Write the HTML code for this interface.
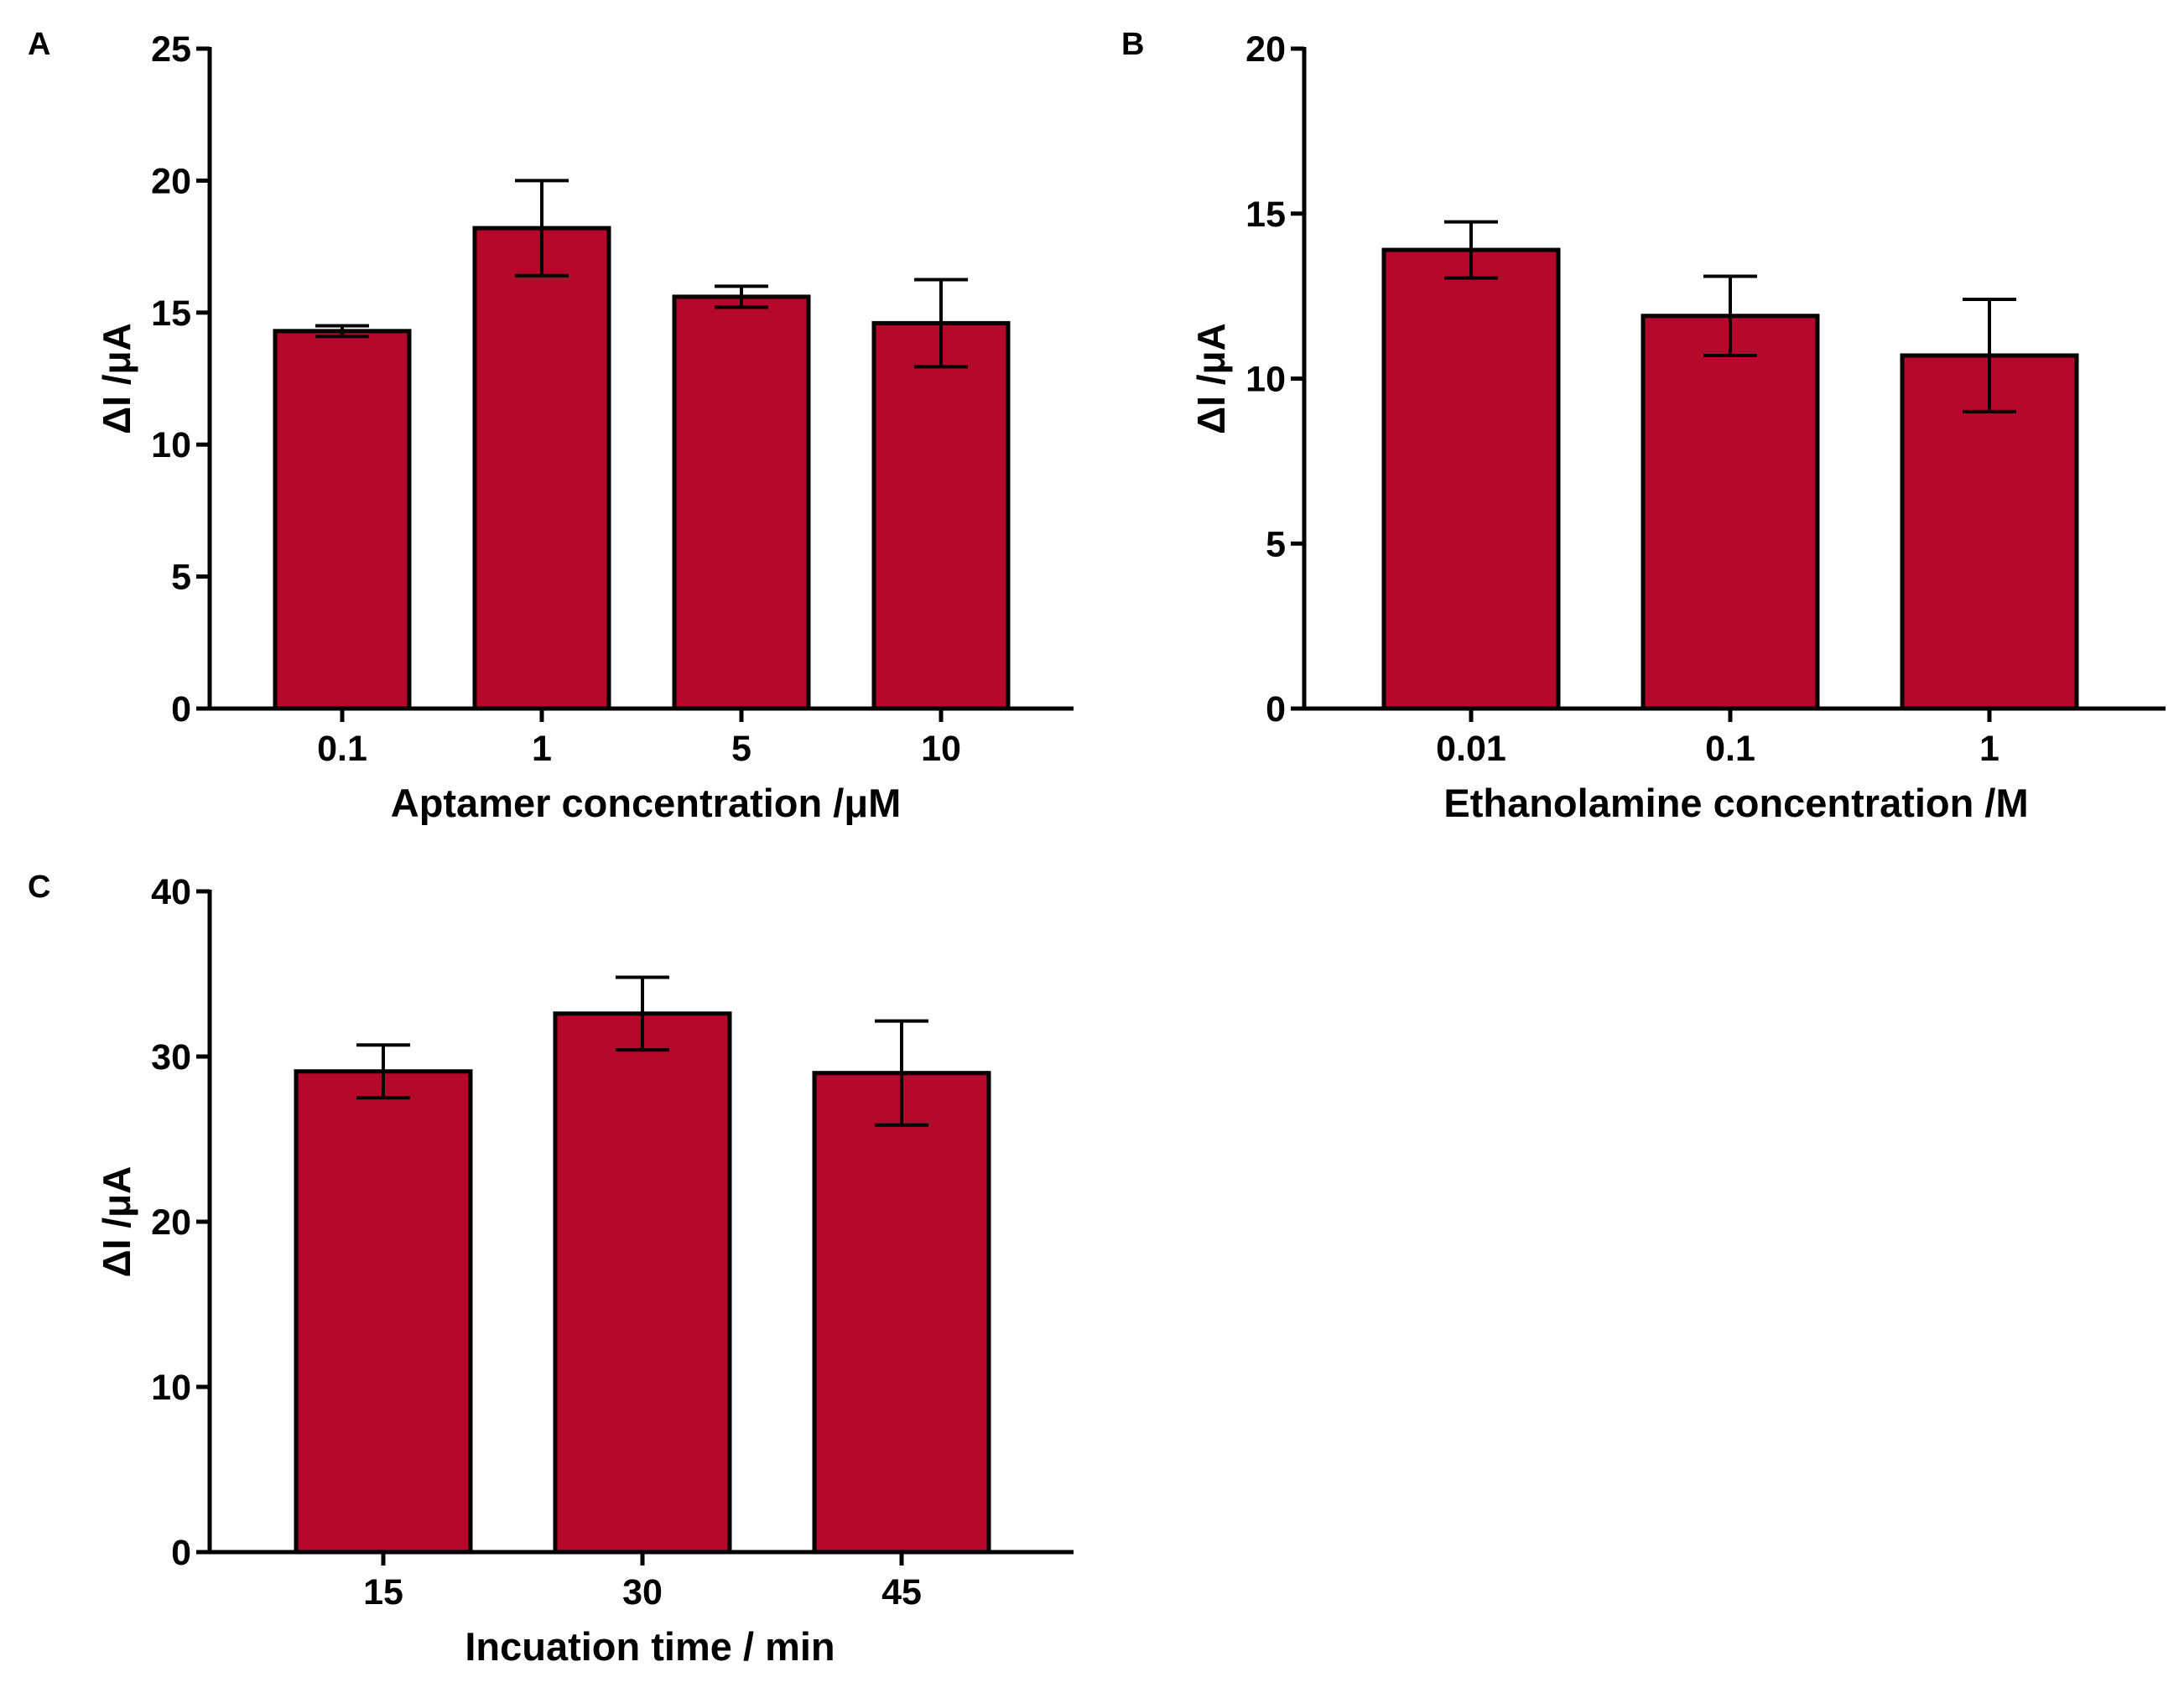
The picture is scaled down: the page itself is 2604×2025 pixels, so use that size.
<!DOCTYPE html>
<html><head><meta charset="utf-8"><style>
html,body{margin:0;padding:0;background:#fff;}
svg{display:block;font-family:"Liberation Sans",Arial,sans-serif;font-weight:bold;}
</style></head><body>
<svg id="fig" width="2604" height="2025" viewBox="0 0 2604 2025"></svg>
<script>
const catsA=["0.1","1","5","10"];
const valsA=[14.3,18.2,15.6,14.6];
const errA=[0.2,1.8,0.4,1.65];
const ticksA=[0,5,10,15,20,25];
const catsB=["0.01","0.1","1"];
const valsB=[13.9,11.9,10.7];
const errB=[0.85,1.2,1.7];
const ticksB=[0,5,10,15,20];
const catsC=["15","30","45"];
const valsC=[29.1,32.6,29.0];
const errC=[1.6,2.2,3.15];
const ticksC=[0,10,20,30,40];

const NS="http://www.w3.org/2000/svg";
const svg=document.getElementById('fig');
function mk(tag,attrs,parent,text){const e=document.createElementNS(NS,tag);for(const k in attrs)e.setAttribute(k,attrs[k]);if(text!==undefined)e.textContent=text;(parent||svg).appendChild(e);return e;}

function panel(cfg){
  const g=mk('g',{});
  
  
  const ymax=cfg.ticks[cfg.ticks.length-1];
  const y=v=>cfg.y0-(v/ymax)*(cfg.y0-cfg.yTop);
  const x=i=>cfg.firstC+i*cfg.step;
  cfg.vals.forEach((v,i)=>{
    const r=mk('rect',{x:x(i)-cfg.bw/2,y:y(v),width:cfg.bw,height:cfg.y0-y(v),fill:'#b5082a',stroke:'#000','stroke-width':5},g);
    
    
    const e=cfg.errs[i];
    const eg=mk('g',{stroke:'#000','stroke-width':4,fill:'none'},g);
    
    
    mk('line',{x1:x(i),x2:x(i),y1:y(v+e),y2:y(v-e)},eg);
    mk('line',{x1:x(i)-32,x2:x(i)+32,y1:y(v+e),y2:y(v+e)},eg);
    mk('line',{x1:x(i)-32,x2:x(i)+32,y1:y(v-e),y2:y(v-e)},eg);
    const t=mk('text',{x:x(i),y:cfg.y0+62,'text-anchor':'middle','font-size':43},g,cfg.cats[i]);
    
    
    mk('line',{x1:x(i),x2:x(i),y1:cfg.y0,y2:cfg.y0+16,stroke:'#000','stroke-width':5},g);
  });
  const ya=mk('line',{x1:cfg.ax,x2:cfg.ax,y1:cfg.yTop-2,y2:cfg.y0+2,stroke:'#000','stroke-width':5},g);
  
  
  const xa=mk('line',{x1:cfg.ax-16,x2:cfg.xEnd,y1:cfg.y0,y2:cfg.y0,stroke:'#000','stroke-width':5},g);
  
  
  cfg.ticks.forEach(tv=>{
    mk('line',{x1:cfg.ax-16,x2:cfg.ax,y1:y(tv),y2:y(tv),stroke:'#000','stroke-width':5},g);
    const t=mk('text',{x:cfg.ax-22,y:y(tv)+15,'text-anchor':'end','font-size':43},g,String(tv));
    
    
  });
  const xt=mk('text',{x:cfg.titleX,y:cfg.y0+129,'text-anchor':'middle','font-size':47},g,cfg.xtitle);
  
  
  const cy=(cfg.yTop+cfg.y0)/2;
  const yt=mk('text',{x:cfg.ax-95,y:cy,'text-anchor':'middle','font-size':46,transform:`rotate(-90 ${cfg.ax-95} ${cy})`},g,'ΔI /μA');
  
  
  const pl=mk('text',{x:cfg.lx,y:cfg.ly,'font-size':38},g,cfg.letter);
  
  
}
panel({name:'panel-a',letter:'A',lx:33,ly:65,cats:catsA,vals:valsA,errs:errA,ticks:ticksA,ax:250,y0:845,yTop:58,xEnd:1280,firstC:408,step:238,bw:160,xtitle:'Aptamer concentration /μM',titleX:770});
panel({name:'panel-b',letter:'B',lx:1337,ly:65,cats:catsB,vals:valsB,errs:errB,ticks:ticksB,ax:1555,y0:845,yTop:58,xEnd:2582,firstC:1754,step:309,bw:208,xtitle:'Ethanolamine concentration /M',titleX:2070});
panel({name:'panel-c',letter:'C',lx:33,ly:1070,cats:catsC,vals:valsC,errs:errC,ticks:ticksC,ax:250,y0:1851,yTop:1063,xEnd:1280,firstC:457,step:309,bw:208,xtitle:'Incuation time / min',titleX:775});
</script>
</body></html>
